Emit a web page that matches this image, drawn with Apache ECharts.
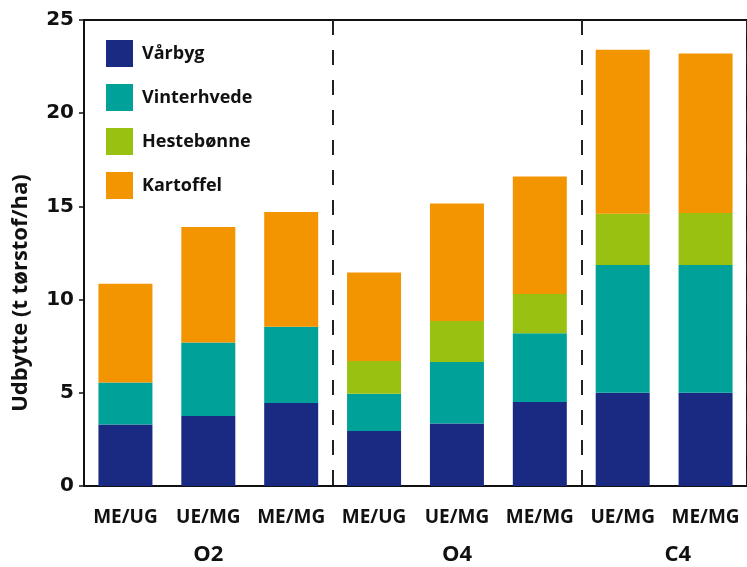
<!DOCTYPE html>
<html>
<head>
<meta charset="utf-8">
<script src="https://cdn.jsdelivr.net/npm/echarts@6/dist/echarts.min.js"></script>
<style>
	html, body { margin: 0; padding: 0; background: #fff; }
	#udbytte_chart { width: 747px; height: 567px; }
</style>
</head>
<body>
<div id="udbytte_chart"></div>
<script>
// behandlinger og grupper
const categories = ['ME/UG', 'UE/MG', 'ME/MG', 'ME/UG', 'UE/MG', 'ME/MG', 'UE/MG', 'ME/MG'];
const groups = ['', 'O2', '', '', 'O4', '', 'C4', ''];
const yTicks = [0, 5, 10, 15, 20, 25];

// udbytte pr. afgrøde (t tørstof/ha)
const vaarbyg = [3.3, 3.75, 4.45, 2.95, 3.35, 4.5, 5.0, 5.0];
const vinterhvede = [2.25, 3.95, 4.1, 2.0, 3.3, 3.7, 6.85, 6.85];
const hestebonne = [0, 0, 0, 1.75, 2.2, 2.1, 2.75, 2.8];
const kartoffel = [5.3, 6.2, 6.15, 4.75, 6.3, 6.3, 8.8, 8.55];

const chartDom = document.getElementById('udbytte_chart');
const myChart = echarts.init(chartDom);

const font = '"Open Sans", sans-serif';
const ink = '#111';

const bar = (name, color, data) => ({
	name: name,
	type: 'bar',
	stack: 'total',
	barWidth: 54,
	xAxisIndex: 0,
	itemStyle: {color: color},
	data: data,
});

let option = {
	animation: false,
	legend: {
		orient: 'vertical',
		left: 101,
		top: 35,
		itemWidth: 27,
		itemHeight: 27,
		itemGap: 17,
		icon: 'rect',
		textStyle: {fontFamily: font, fontWeight: 'bold', fontSize: 18, color: ink, padding: [0, 0, 0, 4]},
		data: ['Vårbyg', 'Vinterhvede', 'Hestebønne', 'Kartoffel']
	},
	grid: {
		left: 84,
		top: 20,
		width: 672,
		height: 466,
		show: true,
		borderColor: ink,
		borderWidth: 2,
		containLabel: false
	},
	xAxis: [
		{
			type: 'category',
			data: categories,
			axisLine: {lineStyle: {color: ink, width: 2}},
			axisTick: {alignWithLabel: true, length: 9, lineStyle: {color: ink, width: 1.5}},
			axisLabel: {interval: 0, margin: 22, fontFamily: font, fontWeight: 'bold', fontSize: 19, color: ink},
			splitLine: {show: false}
		},
		{
			type: 'category',
			position: 'bottom',
			offset: 50,
			data: groups.map(g => g === 'C4' ? {value: g, textStyle: {padding: [0, 0, 0, 110]}} : g),
			axisLine: {show: false},
			axisTick: {show: false},
			axisLabel: {interval: 0, fontFamily: font, fontWeight: 'bold', fontSize: 22, color: ink},
			splitLine: {
				show: true,
				interval: (index) => index === 3 || index === 6,
				lineStyle: {color: '#222', width: 2, type: [15, 15]}
			}
		}
	],
	yAxis: {
		type: 'value',
		min: yTicks[0],
		max: yTicks[yTicks.length - 1],
		interval: 5,
		name: 'Udbytte (t tørstof/ha)',
		nameLocation: 'middle',
		nameGap: 52,
		nameTextStyle: {fontFamily: font, fontWeight: 'bold', fontSize: 22, color: ink, padding: [0, 80, 0, 0]},
		axisLine: {show: true, lineStyle: {color: ink, width: 2}},
		axisTick: {show: true, length: 5, lineStyle: {color: ink, width: 1.5}},
		axisLabel: {margin: 10, fontFamily: '"DejaVu Sans", sans-serif', fontWeight: 'bold', fontSize: 20, color: ink},
		splitLine: {show: false}
	},
	series: [
		bar('Vårbyg', '#1a2a83', vaarbyg),
		bar('Vinterhvede', '#00a199', vinterhvede),
		bar('Hestebønne', '#98c112', hestebonne),
		bar('Kartoffel', '#f39500', kartoffel),
	]
};

option && myChart.setOption(option);
</script>
</body>
</html>
